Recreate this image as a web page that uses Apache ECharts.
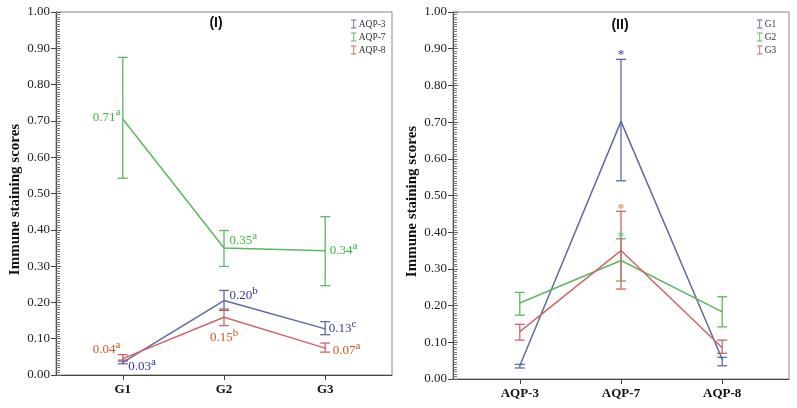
<!DOCTYPE html>
<html>
<head>
<meta charset="utf-8">
<script src="https://cdn.jsdelivr.net/npm/echarts@6/dist/echarts.min.js"></script>
<style>
  html, body { margin: 0; padding: 0; background: #fff; }
  #chart { width: 797px; height: 408px; }
</style>
</head>
<body>
<div id="chart"></div>
<script>
// 数据
const groups = ['G1', 'G2', 'G3'];
const markers = ['AQP-3', 'AQP-7', 'AQP-8'];

// 图 (I): 各 AQP 在 G1-G3 的均值和误差
const aqp3Mean = [0.035, 0.205, 0.127];
const aqp3Low = [0.031, 0.178, 0.111];
const aqp3High = [0.041, 0.233, 0.147];
const aqp7Mean = [0.705, 0.350, 0.342];
const aqp7Low = [0.542, 0.299, 0.246];
const aqp7High = [0.875, 0.398, 0.436];
const aqp8Mean = [0.045, 0.159, 0.074];
const aqp8Low = [0.038, 0.136, 0.063];
const aqp8High = [0.056, 0.182, 0.088];

const aqp3Text = ['0.03', '0.20', '0.13'];
const aqp3Sup = ['a', 'b', 'c'];
const aqp7Text = ['0.71', '0.35', '0.34'];
const aqp7Sup = ['a', 'a', 'a'];
const aqp8Text = ['0.04', '0.15', '0.07'];
const aqp8Sup = ['a', 'b', 'a'];

// 图 (II): 各组在 AQP-3/7/8 的均值和误差
const g1Mean = [0.036, 0.702, 0.054];
const g1Low = [0.030, 0.540, 0.036];
const g1High = [0.040, 0.871, 0.059];
const g2Mean = [0.207, 0.323, 0.183];
const g2Low = [0.174, 0.267, 0.142];
const g2High = [0.236, 0.382, 0.224];
const g3Mean = [0.129, 0.350, 0.085];
const g3Low = [0.106, 0.245, 0.070];
const g3High = [0.149, 0.457, 0.106];

// AQP-7 上方的星号位置 (G1, G2, G3)
const starY = [0.888, 0.393, 0.471];

// 样式
const SERIF = '"Liberation Serif", "Times New Roman", serif';
const SANS = '"Liberation Sans", Arial, sans-serif';
const BLUE = '#5d6aa6';
const GREEN = '#5cb85f';
const RED = '#cf6666';
const BLUE_TXT = '#3333a8';
const GREEN_TXT = '#3db83d';
const ORANGE_TXT = '#d4561f';
const BAR_ICON = 'path://M0,0H6V1H3.5V9H6V10H0V9H2.5V1H0Z';

const chart = echarts.init(document.getElementById('chart'));

function xAxisFor(gridIndex, cats) {
    return {
        type: 'value', gridIndex: gridIndex, min: -0.66, max: 2.66,
        axisLine: { onZero: false, lineStyle: { color: '#444', width: 1 } },
        axisTick: { show: true, length: 5, customValues: [0, 1, 2], lineStyle: { color: '#444' } },
        axisLabel: {
            customValues: [0, 1, 2],
            formatter: v => cats[Math.round(v)],
            fontFamily: SERIF, fontWeight: 'bold', fontSize: 13, color: '#111', margin: 8
        },
        splitLine: { show: false }
    };
}

function yAxesFor(gridIndex) {
    return [{
        type: 'value', gridIndex: gridIndex, min: 0, max: 1, interval: 0.1,
        name: 'Immune staining scores', nameLocation: 'middle', nameGap: 33,
        nameTextStyle: { fontFamily: SERIF, fontWeight: 'bold', fontSize: 15, color: '#111', padding: [0, 0, 0, -12] },
        axisLine: { show: true, onZero: false, lineStyle: { color: '#444', width: 1 } },
        axisTick: { show: true, length: 5, lineStyle: { color: '#444' } },
        axisLabel: { formatter: v => v.toFixed(2), fontFamily: SERIF, fontSize: 13, color: '#222', margin: 6 },
        splitLine: { show: false }
    }, {
        // 内侧的细刻度
        type: 'value', gridIndex: gridIndex, min: 0, max: 1, interval: 0.1, position: 'left',
        axisLine: { show: false, onZero: false },
        axisTick: { show: true, inside: true, length: 5, lineStyle: { color: '#666' } },
        minorTick: { show: true, splitNumber: 15, length: 4, lineStyle: { color: '#777' } },
        axisLabel: { show: false },
        splitLine: { show: false }
    }];
}

function errorSeries(name, color, low, high, xi, yi) {
    return {
        name: name, type: 'custom', xAxisIndex: xi, yAxisIndex: yi,
        itemStyle: { color: color },
        encode: { x: 0, y: [1, 2] },
        data: low.map((l, i) => [i, l, high[i]]),
        renderItem: function (params, api) {
            const p1 = api.coord([api.value(0), api.value(1)]);
            const p2 = api.coord([api.value(0), api.value(2)]);
            const w = 5;
            const st = { stroke: color, lineWidth: 1.3 };
            return {
                type: 'group',
                children: [
                    { type: 'line', shape: { x1: p1[0], y1: p1[1], x2: p2[0], y2: p2[1] }, style: st },
                    { type: 'line', shape: { x1: p1[0] - w, y1: p1[1], x2: p1[0] + w, y2: p1[1] }, style: st },
                    { type: 'line', shape: { x1: p2[0] - w, y1: p2[1], x2: p2[0] + w, y2: p2[1] }, style: st }
                ]
            };
        },
        z: 3
    };
}

function richFor(color) {
    return {
        v: { fontFamily: SERIF, fontSize: 13, color: color },
        s: { fontFamily: SERIF, fontSize: 11, color: color, padding: [0, 0, 9, 0] }
    };
}

function lineSeries(name, color, mean, xi, yi, texts, sups, places, txtColor) {
    return {
        name: name, type: 'line', xAxisIndex: xi, yAxisIndex: yi,
        showSymbol: true, symbol: 'circle', symbolSize: 1,
        lineStyle: { color: color, width: 1.5 },
        itemStyle: { color: color },
        data: mean.map((m, i) => {
            const item = { value: [i, m] };
            if (texts) {
                item.label = Object.assign({
                    show: true,
                    formatter: '{v|' + texts[i] + '}{s|' + sups[i] + '}',
                    rich: richFor(txtColor)
                }, places[i]);
            }
            return item;
        }),
        z: 4
    };
}

// 标签位置 (样式)
const place3 = [
    { position: 'right', distance: 5, offset: [0, 4] },
    { position: 'right', distance: 5, offset: [0, -5] },
    { position: 'right', distance: 3, offset: [0, 0] }
];
const place7 = [
    { position: 'left', distance: 2, offset: [0, -2] },
    { position: 'right', distance: 5, offset: [0, -7] },
    { position: 'right', distance: 4, offset: [0, 0] }
];
const place8 = [
    { position: 'left', distance: 2, offset: [0, -9] },
    { position: 'bottom', distance: 10, offset: [0, 0] },
    { position: 'right', distance: 7, offset: [0, 2] }
];

const starColors = [BLUE_TXT, '#3ccc5a', '#e07a3a'];

chart.setOption({
    backgroundColor: '#fff',
    animation: false,
    grid: [
        { left: 56, right: 405, top: 12, bottom: 33, show: true, borderColor: '#888', borderWidth: 1 },
        { left: 453, right: 8, top: 12, bottom: 29, show: true, borderColor: '#888', borderWidth: 1 }
    ],
    xAxis: [xAxisFor(0, groups), xAxisFor(1, markers)],
    yAxis: yAxesFor(0).concat(yAxesFor(1)),
    legend: [{
        data: markers.map(n => ({ name: n, icon: BAR_ICON })),
        orient: 'vertical', left: 346, top: 14, itemWidth: 6, itemHeight: 9, itemGap: 3,
        textStyle: { fontFamily: SERIF, fontSize: 9.5, color: '#333', padding: [0, 0, 0, -3] }
    }, {
        data: groups.map(n => ({ name: n, icon: BAR_ICON })),
        orient: 'vertical', left: 752, top: 14, itemWidth: 6, itemHeight: 9, itemGap: 3,
        textStyle: { fontFamily: SERIF, fontSize: 9.5, color: '#333', padding: [0, 0, 0, -3] }
    }],
    graphic: [
        { type: 'text', x: 216, y: 23, style: { text: '(I)', font: 'bold 14px ' + SANS, fill: '#111', align: 'center', verticalAlign: 'middle' } },
        { type: 'text', x: 620, y: 25, style: { text: '(II)', font: 'bold 14px ' + SANS, fill: '#111', align: 'center', verticalAlign: 'middle' } }
    ],
    series: [
        lineSeries('AQP-3', BLUE, aqp3Mean, 0, 0, aqp3Text, aqp3Sup, place3, BLUE_TXT),
        lineSeries('AQP-7', GREEN, aqp7Mean, 0, 0, aqp7Text, aqp7Sup, place7, GREEN_TXT),
        lineSeries('AQP-8', RED, aqp8Mean, 0, 0, aqp8Text, aqp8Sup, place8, ORANGE_TXT),
        errorSeries('AQP-3', BLUE, aqp3Low, aqp3High, 0, 0),
        errorSeries('AQP-7', GREEN, aqp7Low, aqp7High, 0, 0),
        errorSeries('AQP-8', RED, aqp8Low, aqp8High, 0, 0),

        lineSeries('G1', BLUE, g1Mean, 1, 2),
        lineSeries('G2', GREEN, g2Mean, 1, 2),
        lineSeries('G3', RED, g3Mean, 1, 2),
        errorSeries('G1', BLUE, g1Low, g1High, 1, 2),
        errorSeries('G2', GREEN, g2Low, g2High, 1, 2),
        errorSeries('G3', RED, g3Low, g3High, 1, 2),
        {
            name: 'stars', type: 'scatter', xAxisIndex: 1, yAxisIndex: 2,
            symbolSize: 0,
            data: starY.map((y, i) => ({
                value: [1, y],
                label: { show: true, position: 'inside', formatter: '*', fontFamily: SERIF, fontSize: 13, fontWeight: 'bold', color: starColors[i], offset: [0, 2] }
            })),
            z: 5
        }
    ]
});
</script>
</body>
</html>
